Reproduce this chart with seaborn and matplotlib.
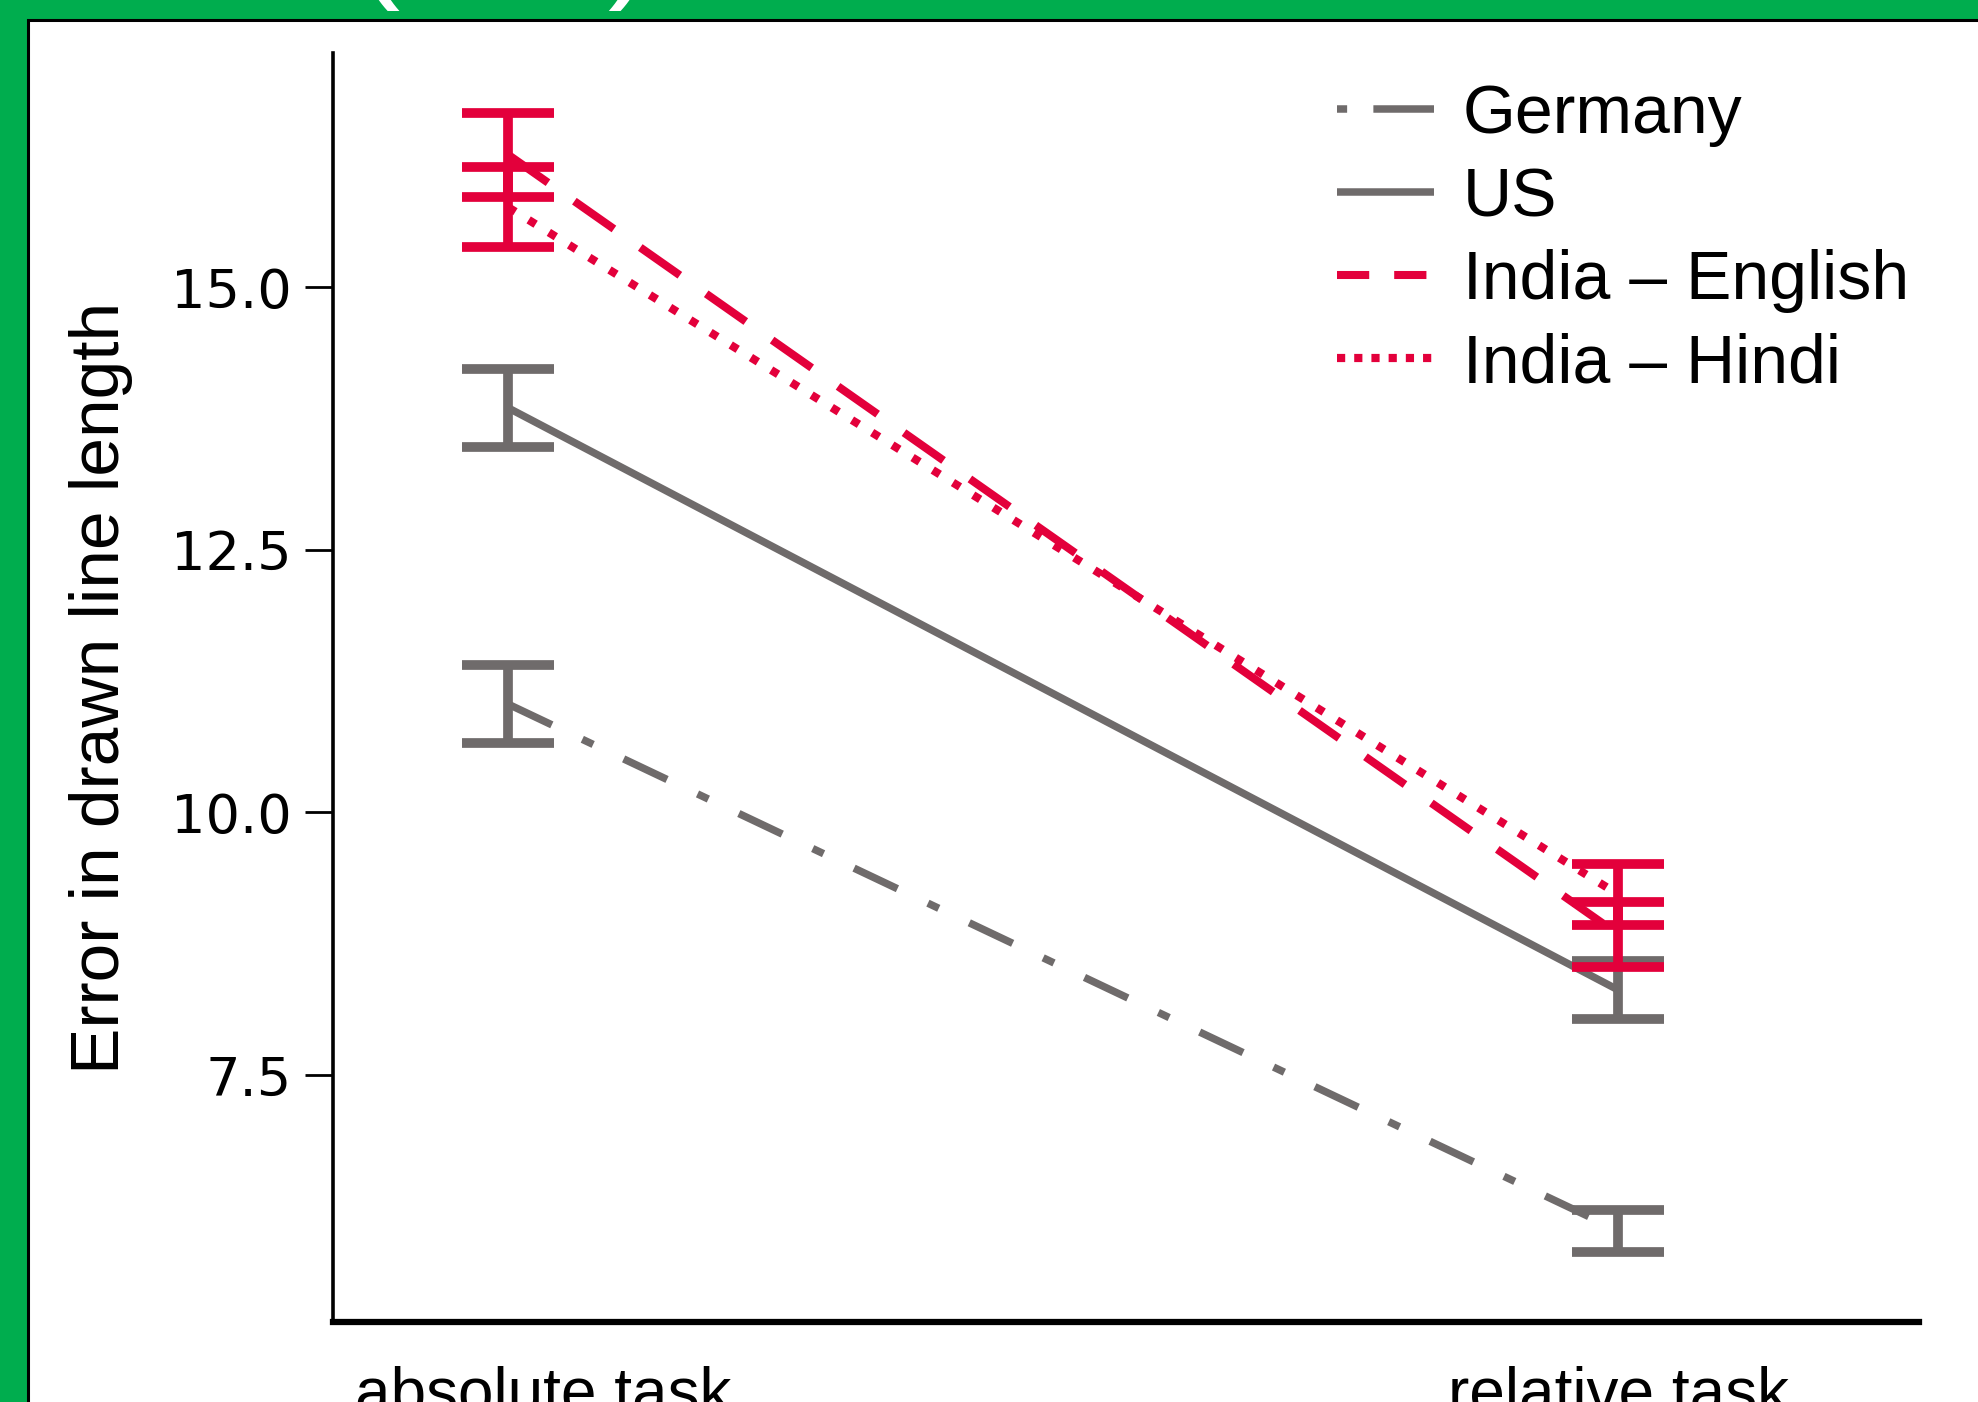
import numpy as np
import pandas as pd
import matplotlib
matplotlib.use("Agg")
import matplotlib.pyplot as plt
import matplotlib.transforms as mtransforms
from matplotlib.patches import Rectangle
import seaborn as sns

# values
countries = ['Germany', 'US', 'India – English', 'India – Hindi']
tasks = ['absolute task', 'relative task']
absolute_means = [11.03, 13.85, 16.26, 15.76]
relative_means = [6.02, 8.31, 8.84, 9.22]
absolute_ci = [0.37, 0.37, 0.40, 0.38]
relative_ci = [0.20, 0.28, 0.31, 0.29]
yticks = [7.5, 10.0, 12.5, 15.0]

gray = '#6f6b6b'
red = '#e3003b'
green = '#00ad4e'
narrow = ['Liberation Sans Narrow', 'Liberation Sans', 'DejaVu Sans']

df = pd.DataFrame({
    'country': countries * 2,
    'task': [0] * 4 + [1] * 4,
    'error': absolute_means + relative_means,
    'ci': absolute_ci + relative_ci,
})

sns.set_style('white')
plt.rcParams['font.family'] = ['Liberation Sans', 'DejaVu Sans']
plt.rcParams['text.color'] = 'black'
plt.rcParams['axes.labelcolor'] = 'black'
plt.rcParams['xtick.color'] = 'black'
plt.rcParams['ytick.color'] = 'black'

fig = plt.figure(figsize=(19.78, 14.02), dpi=100, facecolor=green)
fig.add_artist(Rectangle((28 / 1978, -0.01), 1.0, 1 - 20 / 1402 + 0.01,
                         transform=fig.transFigure, facecolor='white',
                         edgecolor='black', lw=2.2, zorder=0))
# cropped title, only the bottoms of the brackets are visible
fig.text(353 / 1978, 1.013, '(', color='white', fontsize=100, family=narrow, va='baseline')
fig.text(607 / 1978, 1.013, ')', color='white', fontsize=100, family=narrow, va='baseline')

ax = fig.add_axes([0.1684, 0.0571, 0.8018, 0.9051])
ax.set_facecolor('none')

colors = {'Germany': gray, 'US': gray, 'India – English': red, 'India – Hindi': red}
styles = {'Germany': (0, (6.4, 4.5, 1.6, 4.5)), 'US': '-',
          'India – English': (0, (6, 4)), 'India – Hindi': (0, (1, 1.9))}
legend_styles = {'Germany': (0, (1.35, 3.5, 8.2, 5)), 'US': '-',
                 'India – English': (0, (4, 3.1)), 'India – Hindi': (0, (1, 1.1))}
widths = {'Germany': 5.4, 'US': 5.4, 'India – English': 5.8, 'India – Hindi': 5.9}

for c in countries:
    sub = df[df['country'] == c]
    sns.lineplot(data=sub, x='task', y='error', color=colors[c], linewidth=widths[c],
                 linestyle=styles[c], label=c, ax=ax, zorder=2)

for c in countries:
    sub = df[df['country'] == c]
    ax.errorbar(sub['task'], sub['error'], yerr=sub['ci'], fmt='none', ecolor=colors[c],
                elinewidth=7, capsize=33, capthick=7, zorder=3)

ax.set_xlim(-0.158, 1.271)
ax.set_ylim(5.15, 17.23)
ax.set_yticks(yticks)
ax.set_yticklabels([f'{t:.1f}' for t in yticks], fontsize=39, family='DejaVu Sans')
ax.set_xticks([0, 1])
ax.set_xticklabels(tasks, fontsize=46, family=narrow)
ax.tick_params(axis='x', length=0, pad=31, labelcolor='black')
ax.tick_params(axis='y', left=True, direction='out', length=20, width=2, pad=10,
               color='black', labelcolor='black')
# the first task label sits a bit right of its point
lab0 = ax.get_xticklabels()[0]
lab0.set_transform(lab0.get_transform() + mtransforms.ScaledTranslation(0.35, 0, fig.dpi_scale_trans))
ax.set_xlabel('')
ax.set_ylabel('Error in drawn line length', fontsize=50, family=narrow, labelpad=27, color='black')

sns.despine(ax=ax)
ax.spines['left'].set_linewidth(2.6)
ax.spines['bottom'].set_linewidth(4.5)
for s in ['left', 'bottom']:
    ax.spines[s].set_color('black')

leg = ax.legend(loc='upper left', bbox_to_anchor=(1337 / 1978, 1 - 83 / 1402),
                bbox_transform=fig.transFigure, frameon=False, fontsize=49,
                handlelength=1.43, handletextpad=0.42, labelspacing=0.28,
                borderpad=0, borderaxespad=0, labelcolor='black')
for h, c in zip(leg.get_lines(), countries):
    h.set_solid_capstyle('butt')
    h.set_linestyle(legend_styles[c])

fig.savefig('out.png', dpi=100, facecolor=fig.get_facecolor())
